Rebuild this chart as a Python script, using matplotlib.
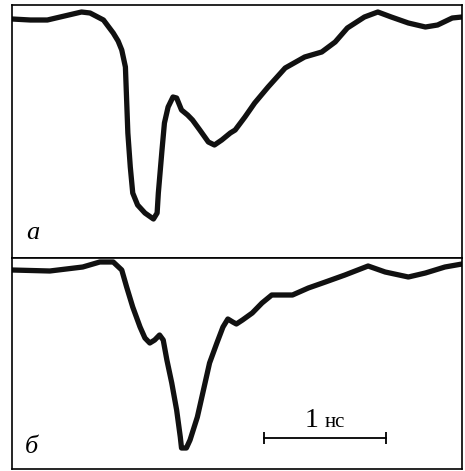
import matplotlib.pyplot as plt

# time axis in ns, signal in arbitrary units (0 = top of the panel)
t_a = [0.00, 0.15, 0.29, 0.43, 0.57, 0.64, 0.75, 0.83, 0.87, 0.90, 0.93, 0.94,
       0.95, 0.97, 0.99, 1.03, 1.09, 1.16, 1.19, 1.20, 1.23, 1.25, 1.28, 1.32,
       1.35, 1.39, 1.44, 1.48, 1.54, 1.61, 1.66, 1.72, 1.79, 1.83, 1.91, 1.99,
       2.10, 2.24, 2.40, 2.54, 2.65, 2.75, 2.89, 3.00, 3.11, 3.25, 3.39, 3.49,
       3.61, 3.69]
s_a = [-0.14, -0.15, -0.15, -0.11, -0.07, -0.08, -0.15, -0.28, -0.36, -0.45,
       -0.62, -0.95, -1.28, -1.62, -1.88, -2.00, -2.08, -2.14, -2.08, -1.88,
       -1.45, -1.18, -1.02, -0.92, -0.93, -1.05, -1.10, -1.15, -1.25, -1.37,
       -1.40, -1.35, -1.28, -1.25, -1.12, -0.98, -0.82, -0.63, -0.52, -0.47,
       -0.37, -0.23, -0.12, -0.07, -0.12, -0.18, -0.22, -0.20, -0.13, -0.12]

t_b = [0.00, 0.31, 0.58, 0.72, 0.83, 0.90, 0.94, 0.99, 1.05, 1.09, 1.13, 1.17,
       1.21, 1.24, 1.27, 1.31, 1.35, 1.38, 1.39, 1.43, 1.46, 1.52, 1.57, 1.62,
       1.68, 1.73, 1.77, 1.81, 1.84, 1.89, 1.97, 2.05, 2.13, 2.30, 2.43, 2.57,
       2.73, 2.92, 3.06, 3.25, 3.39, 3.55, 3.69]
s_b = [-0.12, -0.13, -0.09, -0.04, -0.04, -0.12, -0.29, -0.49, -0.69, -0.80,
       -0.85, -0.82, -0.77, -0.82, -1.02, -1.25, -1.52, -1.79, -1.90, -1.90,
       -1.82, -1.59, -1.32, -1.05, -0.85, -0.69, -0.61, -0.64, -0.66, -0.62,
       -0.55, -0.45, -0.37, -0.37, -0.30, -0.24, -0.17, -0.08, -0.14, -0.19,
       -0.15, -0.09, -0.06]

scale_bar = (2.07, 3.07)  # 1 ns
W, H = 465, 471

fig = plt.figure(figsize=(W / 100, H / 100), dpi=100)
ax_a = fig.add_axes([12 / W, 1 - 258 / H, 450 / W, 253 / H])
ax_b = fig.add_axes([12 / W, 1 - 469 / H, 450 / W, 211 / H])

for ax, t, s, ylo in [(ax_a, t_a, s_a, -2.53), (ax_b, t_b, s_b, -2.11)]:
    ax.plot(t, s, color='#111111', lw=3.8, solid_joinstyle='round',
            solid_capstyle='round')
    ax.set_xlim(0, 3.69)
    ax.set_ylim(ylo, 0)
    ax.set_xticks([])
    ax.set_yticks([])
    for sp in ax.spines.values():
        sp.set_linewidth(1.2)

label_font = dict(family='Liberation Serif', style='italic', fontsize=19)
ax_a.text(0.17, -2.28, 'a', ha='center', va='center', **label_font)
ax_b.text(0.16, -1.89, 'б', ha='center', va='center', **label_font)

# scale bar with its label
ax_b.plot(scale_bar, [-1.80, -1.80], color='black', lw=1.3,
          marker='|', markersize=8.5, markeredgewidth=1.3)
ax_b.text(2.46, -1.69, '1', ha='center', va='baseline',
          family='Liberation Serif', fontsize=20)
ax_b.text(2.56, -1.69, 'нс', ha='left', va='baseline',
          family='Liberation Serif', fontsize=15)

fig.savefig('out.png', dpi=100)
